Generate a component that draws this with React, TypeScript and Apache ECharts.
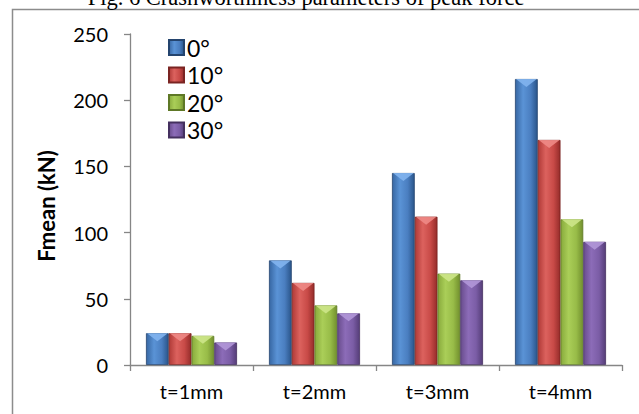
import React, { useEffect, useRef } from "react";
import * as echarts from "echarts";

const categories = ["t=1mm", "t=2mm", "t=3mm", "t=4mm"];
const seriesNames = ["0°", "10°", "20°", "30°"];
const deg0 = [24, 79, 145, 216];
const deg10 = [24, 62, 112, 170];
const deg20 = [22, 45, 69, 110];
const deg30 = [17, 39, 64, 93];
const yTicks = { min: 0, max: 250, interval: 50 };
const titleText = "Fig. 6 Crashworthiness parameters of peak force";
const yName = "Fmean (kN)";

const palettes = [
  { stops: ["#3767A3", "#5A93D6", "#4A7EC0", "#2A558A"], cap: "#82B4EE", border: "#24446E" },
  { stops: ["#B03A37", "#DC625E", "#C84A47", "#952C2A"], cap: "#EE8A86", border: "#7A2422" },
  { stops: ["#88AA3C", "#AACE58", "#98BC48", "#72902E"], cap: "#CDE68A", border: "#5E7826" },
  { stops: ["#684C8C", "#8C6CB8", "#7B5DA6", "#553D78"], cap: "#B197D8", border: "#44305F" },
];

function grad(p: { stops: string[] }) {
  return new echarts.graphic.LinearGradient(0, 0, 1, 0, [
    { offset: 0, color: p.stops[0] },
    { offset: 0.35, color: p.stops[1] },
    { offset: 0.7, color: p.stops[2] },
    { offset: 1, color: p.stops[3] },
  ]);
}

export default function App() {
  const ref = useRef<HTMLDivElement>(null);
  useEffect(() => {
    if (!ref.current) return;
    const chart = echarts.init(ref.current, null, { renderer: "svg" });
    const values = [deg0, deg10, deg20, deg30];
    const font = "Lato";
    const bars = values.map((v, i) => ({
      type: "bar",
      name: seriesNames[i],
      data: v,
      barGap: "0%",
      barCategoryGap: "26%",
      itemStyle: { color: grad(palettes[i]), borderColor: palettes[i].border, borderWidth: 0.8 },
      z: 2,
    }));
    const caps = values.map((v, i) => ({
      type: "pictorialBar",
      name: "cap" + i,
      data: v,
      barGap: "0%",
      barCategoryGap: "26%",
      symbol: "triangle",
      symbolRotate: 180,
      symbolSize: ["92%", 8],
      symbolPosition: "end",
      silent: true,
      itemStyle: { color: palettes[i].cap, opacity: 0.9 },
      z: 3,
    }));
    chart.setOption({
      animation: false,
      graphic: [
        {
          type: "rect",
          shape: { x: 12.5, y: 9.5, width: 700, height: 500 },
          style: { fill: "none", stroke: "#8c8c8c", lineWidth: 1.5 },
          z: -1,
        },
        {
          type: "text",
          x: 306,
          y: -3,
          style: {
            text: titleText,
            font: "22.5px 'Liberation Serif'",
            fill: "#000",
            textAlign: "center",
            textVerticalAlign: "middle",
          },
        },
        {
          type: "text",
          x: 46,
          y: 206,
          rotation: Math.PI / 2,
          style: {
            text: yName,
            font: "bold 22px Lato",
            fill: "#000",
            textAlign: "center",
            textVerticalAlign: "middle",
          },
        },
      ],
      legend: {
        data: seriesNames,
        orient: "vertical",
        left: 163,
        top: 31,
        itemWidth: 15,
        itemHeight: 15,
        itemGap: 4.5,
        icon: "rect",
        textStyle: { fontFamily: font, fontSize: 23, lineHeight: 22, color: "#000", padding: [0, 0, 0, -2] },
      },
      grid: { left: 130, right: 17, top: 34, bottom: 49 },
      xAxis: {
        type: "category",
        data: categories,
        axisLine: { lineStyle: { color: "#868686", width: 1.3 } },
        axisTick: { show: true, length: 6, alignWithLabel: false, lineStyle: { color: "#868686", width: 1.3 } },
        axisLabel: { fontFamily: font, fontSize: 20, color: "#000", margin: 16 },
      },
      yAxis: {
        type: "value",
        min: yTicks.min,
        max: yTicks.max,
        interval: yTicks.interval,
        axisLine: { show: true, lineStyle: { color: "#868686", width: 1.3 } },
        axisTick: { show: true, length: 6, lineStyle: { color: "#868686", width: 1.3 } },
        axisLabel: { fontFamily: font, fontSize: 20, color: "#000", margin: 22 },
        splitLine: { show: false },
      },
      series: [...bars, ...caps],
    });
    return () => chart.dispose();
  }, []);
  return (
    <div
      ref={ref}
      style={{ position: "absolute", left: 0, top: 0, width: 639, height: 414, background: "#fff" }}
    />
  );
}
